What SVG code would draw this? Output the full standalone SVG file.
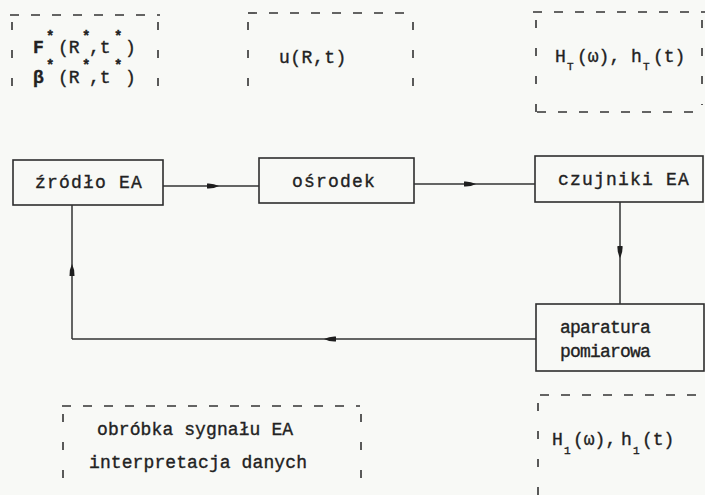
<svg xmlns="http://www.w3.org/2000/svg" width="705" height="495" viewBox="0 0 705 495">
<style>
.bg{fill:#f8f9f6}
.box{fill:none;stroke:#2e2e2e;stroke-width:1.6}
.dh{fill:none;stroke:#333;stroke-width:1.6;stroke-dasharray:9 12}
.dv{fill:none;stroke:#333;stroke-width:1.6;stroke-dasharray:8 20}
.ln{fill:none;stroke:#333;stroke-width:1.5}
text{font-family:"Liberation Mono","DejaVu Sans Mono",monospace;fill:#222;stroke:#222;stroke-width:0.35;font-size:18px}
.t{letter-spacing:1.2px}
.m{font-size:18px}
.b{font-weight:bold}
.sup{font-size:14px;font-weight:bold}
.sub{font-size:11px}
</style>
<defs>
<marker id="ah" viewBox="0 0 12 7" refX="6" refY="3.5" markerWidth="12" markerHeight="7" markerUnits="userSpaceOnUse" orient="auto">
<path d="M0,1 Q6,0.5 12,3.5 Q6,6.5 0,6 Z" fill="#1e1e1e"/>
</marker>
</defs>
<rect class="bg" x="0" y="0" width="705" height="495"/>

<g id="params-source">
<path class="dh" d="M10,15 H160"/>
<path class="dv" d="M12,22 V95"/>
<path class="dv" d="M158,22 V95"/>
<text class="m" x="33" y="53"><tspan class="b">F</tspan><tspan class="sup" x="46" y="41">*</tspan><tspan x="58" y="53">(R</tspan><tspan class="sup" x="82" y="41">*</tspan><tspan x="89" y="53">,t</tspan><tspan class="sup" x="114" y="41">*</tspan><tspan x="125" y="53">)</tspan></text>
<text class="m" x="33" y="83"><tspan class="b">β</tspan><tspan class="sup" x="46" y="70">*</tspan><tspan x="58" y="83">(R</tspan><tspan class="sup" x="82" y="70">*</tspan><tspan x="89" y="83">,t</tspan><tspan class="sup" x="114" y="70">*</tspan><tspan x="125" y="83">)</tspan></text>
</g>

<g id="params-medium">
<path class="dh" d="M248,13 H413"/>
<path class="dv" d="M248,22 V95"/>
<path class="dv" d="M413,22 V95"/>
<text class="m" x="279" y="63" style="letter-spacing:0.5px">u(R,t)</text>
</g>

<g id="params-sensors">
<path class="dh" d="M533,12 H705"/>
<path class="dv" d="M536,20 V112"/>
<path class="dv" d="M702,20 V105"/>
<path class="dh" d="M537,112 H703"/>
<text class="m" x="555" y="62">H<tspan class="sub" x="567" y="70">T</tspan><tspan x="577" y="62">(ω),</tspan><tspan x="631" y="62">h</tspan><tspan class="sub" x="643" y="70">T</tspan><tspan x="653" y="62">(t)</tspan></text>
</g>

<g id="zrodlo">
<rect class="box" x="13" y="160" width="150" height="45"/>
<text class="t" x="35" y="188">źródło EA</text>
</g>

<g id="osrodek">
<rect class="box" x="259" y="158" width="155" height="45"/>
<text class="t" x="292" y="187">ośrodek</text>
</g>

<g id="czujniki">
<rect class="box" x="535" y="156" width="168" height="46"/>
<text class="t" x="558" y="185">czujniki EA</text>
</g>

<g id="aparatura">
<rect class="box" x="536" y="304" width="168" height="67"/>
<text x="560" y="333" style="letter-spacing:-0.8px">aparatura</text>
<text x="560" y="357" style="letter-spacing:-0.8px">pomiarowa</text>
</g>

<g id="processing">
<path class="dh" d="M62,406 H360"/>
<path class="dv" d="M63,414 V495"/>
<path class="dv" d="M361,414 V495"/>
<text x="97" y="435" style="letter-spacing:0.1px">obróbka sygnału EA</text>
<text x="89" y="468" style="letter-spacing:0.1px">interpretacja danych</text>
</g>

<g id="params-apparatus">
<path class="dh" d="M540,395 H705"/>
<path class="dv" d="M538,403 V495"/>
<text class="m" x="552" y="445">H<tspan class="sub" x="564" y="454">1</tspan><tspan x="573" y="445">(ω),</tspan><tspan x="621" y="445">h</tspan><tspan class="sub" x="633" y="454">1</tspan><tspan x="642" y="445">(t)</tspan></text>
</g>

<g id="connectors">
<path class="ln" marker-mid="url(#ah)" d="M163,186 L213,186 L259,186"/>
<path class="ln" marker-mid="url(#ah)" d="M414,184 L470,184 L535,184"/>
<path class="ln" marker-mid="url(#ah)" d="M620,202 L620,252 L620,304"/>
<path class="ln" marker-mid="url(#ah)" d="M536,339 L330,339 L72,339"/>
<path class="ln" marker-mid="url(#ah)" d="M72,339 L72,270 L72,205"/>
</g>
</svg>
